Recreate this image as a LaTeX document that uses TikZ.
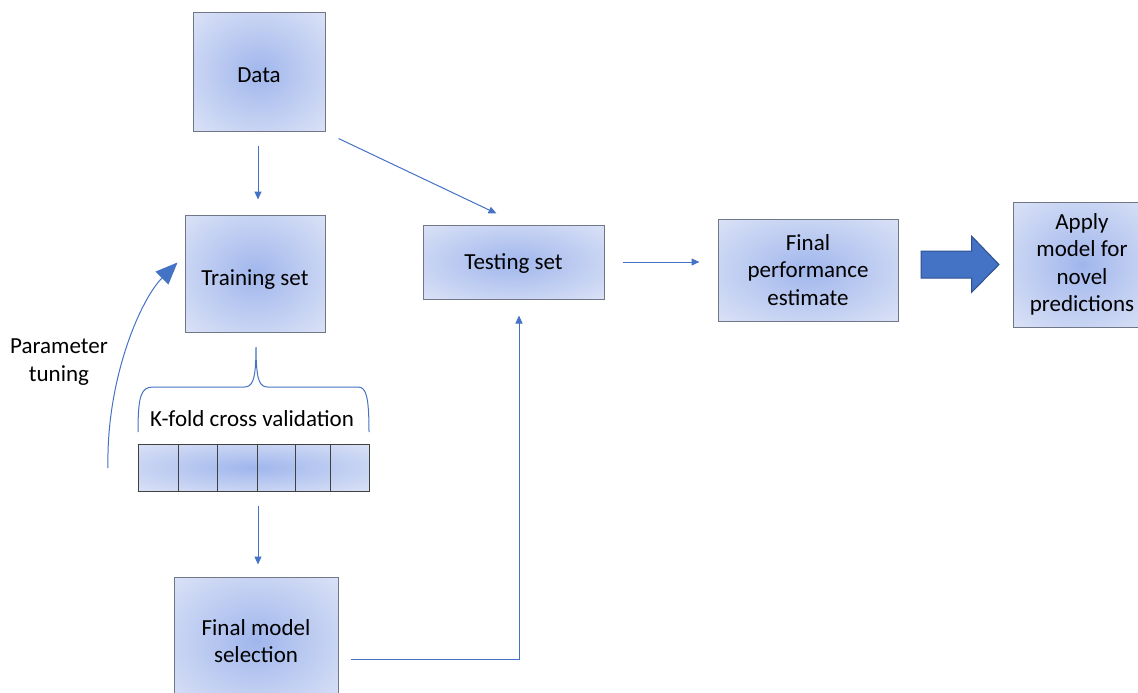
\documentclass[tikz,border=0pt]{standalone}
\usepackage{fontspec}
\setmainfont{Carlito}
\usetikzlibrary{arrows.meta,calc}
\definecolor{bxin}{RGB}{160,182,236}
\definecolor{bxout}{RGB}{223,229,247}
\definecolor{bxline}{RGB}{112,120,135}
\definecolor{arrblue}{RGB}{68,114,196}
\definecolor{arrdark}{RGB}{47,82,143}
\pgfdeclareradialshading{boxshade}{\pgfpoint{0bp}{0bp}}{color(0bp)=(bxin); color(38bp)=(bxout); color(80bp)=(bxout)}
\newcommand{\lowered}[2]{\raisebox{-#1}[\height][\depth]{#2}}
\begin{document}
\begin{tikzpicture}[x=1pt,y=-1pt,
  box/.style={draw=bxline, line width=1pt, shading=boxshade, align=center,
    font=\fontsize{23}{27.5}\selectfont, inner sep=0pt},
  lbl/.style={align=center, font=\fontsize{23}{27.5}\selectfont, inner sep=0pt},
  arr/.style={draw=arrblue, line width=1pt, -{Triangle[length=8pt,width=7pt]}},
  thin/.style={draw=arrblue, line width=1pt}]
\useasboundingbox (0,0) rectangle (1138,693);
\clip (0,0) rectangle (1138,693);

\node[box, minimum width=132, minimum height=118] (data) at (259,72) {\lowered{3pt}{Data}};
\node[box, minimum width=140, minimum height=117] (training) at (255,273.5) {\lowered{6.5pt}{Training set}};
\node[box, minimum width=181, minimum height=74] (testing) at (513.5,262) {\lowered{2pt}{Testing set}};
\node[box, minimum width=180, minimum height=102] (perf) at (808,270) {Final\\performance\\estimate};
\node[box, minimum width=138, minimum height=125] (apply) at (1082,264.5) {Apply\\model for\\novel\\predictions};
\node[box, minimum width=164, minimum height=128] (final) at (256,641) {Final model\\selection};

% K-fold bar
\node[draw=black!75, line width=1pt, shading=boxshade, minimum width=231, minimum height=47, inner sep=0pt] (bar) at (253.5,467.5) {};
\foreach \xx in {178,217,257,295,330}
  \draw[black!75, line width=1pt] (bar.north -| \xx,0) -- (bar.south -| \xx,0);

\node[lbl] (kfold) at (252,419) {K-fold cross validation};
\node[lbl] (param) at (59,362) {Parameter\\tuning};

% brace
\draw[thin] (138,432) .. controls (138,396) and (141,387) .. (153,387)
  -- (244,387) .. controls (252,387) and (256,382) .. (256,347)
  .. controls (256,382) and (260,387) .. (268,387)
  -- (358,387) .. controls (366,387) and (369,396) .. (369,432);

% connectors
\draw[arr, shorten <=14pt, shorten >=15pt] (data.south -| 258,0) -- (training.north -| 258,0);
\draw[arr] ($(data.south east)+(13,7)$) -- ($(testing.north)+(-17,-11)$);
\draw[arr, shorten <=18pt, shorten >=18pt] (testing.east) -- (perf.west |- testing.east);
\draw[arr, shorten <=14pt, shorten >=12pt] (bar.south -| 258,0) -- (final.north -| 258,0);
\draw[arr] ($(final.east)+(12,18)$) -| ($(testing.south)+(5.5,16)$);

% parameter tuning curved arrow
\coordinate (pt) at (108,468);
\draw[draw=arrblue, line width=1pt, -{Triangle[length=22pt,width=18pt,fill=arrblue]}]
  (pt) .. controls (106,380) and (140,300) .. ($(training.west)+(-7,-11)$);

% block arrow
\draw[fill=arrblue, draw=arrdark, line width=1pt]
  (921,251) -- (971.5,251) -- (971.5,236) -- (999,264.5) -- (971.5,292.5)
  -- (971.5,278) -- (921,278) -- cycle;
\end{tikzpicture}
\end{document}
